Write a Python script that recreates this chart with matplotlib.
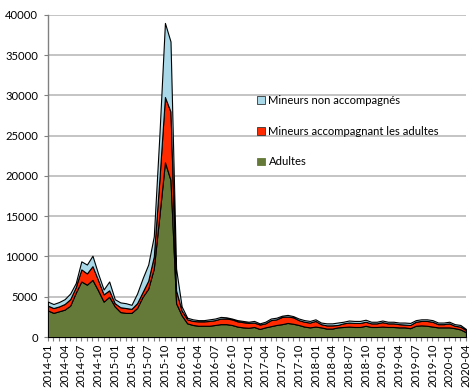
import matplotlib
matplotlib.use("Agg")
import matplotlib.pyplot as plt
import matplotlib.patches as mpatches

plt.rcParams['font.family'] = ['Lato', 'DejaVu Sans']

# monthly figures, 2014-01 .. 2020-04 (thousands, converted below)
months = [f"{y}-{m:02d}" for y in range(2014, 2021) for m in range(1, 13)][:76]

# cumulative tops (in thousands)
total_top = [4.4, 4.1, 4.35, 4.7, 5.4, 6.7, 9.4, 9.0, 10.1, 7.9, 5.9, 6.9,
             4.7, 4.3, 4.2, 4.0, 5.4, 7.3, 9.0, 12.5, 25.0, 39.0, 36.7, 8.5,
             3.8, 2.4, 2.2, 2.1, 2.1, 2.2, 2.3, 2.5, 2.45, 2.3, 2.1, 2.0,
             1.9, 2.0, 1.7, 1.9, 2.3, 2.4, 2.65, 2.75, 2.6, 2.3, 2.1, 2.0,
             2.2, 1.8, 1.7, 1.7, 1.8, 1.9, 2.05, 2.0, 2.0, 2.15, 1.9, 1.9,
             2.05, 1.9, 1.9, 1.8, 1.8, 1.75, 2.1, 2.2, 2.2, 2.1, 1.8, 1.8,
             1.9, 1.6, 1.5, 1.0]
red_top = [3.9, 3.6, 3.8, 4.1, 4.7, 6.2, 8.4, 7.9, 8.8, 7.1, 5.3, 5.8,
           4.2, 3.7, 3.6, 3.5, 4.2, 5.6, 7.0, 10.0, 19.5, 29.8, 28.0, 5.8,
           3.3, 2.2, 2.0, 1.95, 1.95, 2.0, 2.1, 2.3, 2.3, 2.2, 1.95, 1.85,
           1.75, 1.8, 1.55, 1.7, 2.1, 2.2, 2.5, 2.55, 2.45, 2.1, 1.9, 1.8,
           2.0, 1.6, 1.45, 1.45, 1.5, 1.7, 1.8, 1.75, 1.75, 1.9, 1.7, 1.7,
           1.85, 1.7, 1.7, 1.6, 1.55, 1.5, 1.9, 2.0, 2.0, 1.9, 1.6, 1.6,
           1.7, 1.4, 1.3, 0.85]
adults = [3.3, 3.0, 3.2, 3.4, 3.9, 5.5, 6.9, 6.5, 7.1, 5.8, 4.4, 5.0,
          3.8, 3.1, 3.0, 3.0, 3.6, 5.0, 6.0, 8.5, 15.0, 21.7, 19.5, 4.2,
          2.7, 1.7, 1.5, 1.4, 1.4, 1.4, 1.5, 1.6, 1.6, 1.5, 1.3, 1.2,
          1.15, 1.25, 1.0, 1.2, 1.35, 1.5, 1.6, 1.75, 1.65, 1.5, 1.3, 1.2,
          1.3, 1.2, 1.05, 1.05, 1.2, 1.25, 1.3, 1.25, 1.25, 1.4, 1.25, 1.25,
          1.3, 1.25, 1.25, 1.2, 1.2, 1.1, 1.4, 1.45, 1.4, 1.3, 1.2, 1.2,
          1.2, 1.1, 0.95, 0.6]

adults = [v * 1000 for v in adults]
minors_with_adults = [(r * 1000) - a for r, a in zip(red_top, adults)]
unaccompanied = [(t - r) * 1000 for t, r in zip(total_top, red_top)]

GREEN = '#657a38'
RED = '#ff2a00'
BLUE = '#a9d9e8'

fig = plt.figure(figsize=(4.74, 3.91), dpi=100)
ax = fig.add_axes([0.101, 0.138, 0.882, 0.824])

x = list(range(len(months)))
ax.stackplot(x, adults, minors_with_adults, unaccompanied,
             colors=[GREEN, RED, BLUE], edgecolor='black', linewidth=0.8, zorder=3)

ax.set_xlim(0, len(months) - 1)
ax.set_ylim(0, 40000)
ax.set_yticks(range(0, 40001, 5000))
ax.yaxis.grid(True, color='#c4c4c4', linewidth=1.4, zorder=0)
ax.set_axisbelow(True)

ax.set_xticks(x[::3])
ax.set_xticklabels(months[::3], rotation=90)
ax.set_xticks(x, minor=True)
ax.tick_params(axis='both', which='both', labelsize=8.1, color='#808080', length=3, width=0.8)
ax.tick_params(axis='x', pad=2)
ax.tick_params(axis='y', pad=4)

for side in ['top', 'right']:
    ax.spines[side].set_visible(False)
for side in ['left', 'bottom']:
    ax.spines[side].set_color('#808080')
    ax.spines[side].set_linewidth(1.0)

legend_elements = [
    mpatches.Patch(facecolor=BLUE, edgecolor='#333333', linewidth=0.6, label='Mineurs non accompagnés'),
    mpatches.Patch(facecolor=RED, edgecolor='#333333', linewidth=0.6, label='Mineurs accompagnant les adultes'),
    mpatches.Patch(facecolor=GREEN, edgecolor=GREEN, linewidth=0.6, label='Adultes'),
]
ax.legend(handles=legend_elements, loc='upper left', bbox_to_anchor=(0.49, 0.765),
          frameon=False, fontsize=8.1, labelspacing=1.75, handlelength=0.7,
          handleheight=0.7, handletextpad=0.3, borderaxespad=0)

fig.savefig('out.png', dpi=100)
